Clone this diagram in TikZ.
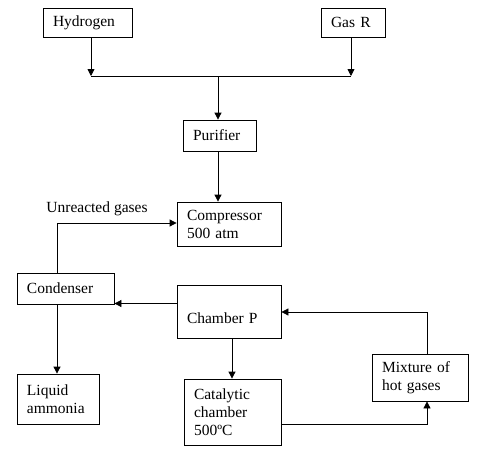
\documentclass[tikz,border=0pt]{standalone}
\usepackage{fontspec}
\setmainfont{Liberation Serif}
\usetikzlibrary{arrows.meta}
\begin{document}
\begin{tikzpicture}[x=1pt,y=-1pt,
  every node/.style={font=\fontsize{15.5}{18}\selectfont},
  box/.style={draw, line width=0.8pt, inner xsep=10pt, inner ysep=0pt, align=left},
  arr/.style={line width=0.8pt, -{Triangle[length=7pt,width=7pt]}},
  ln/.style={line width=0.8pt}]
\useasboundingbox (0,0) rectangle (488,453);
% boxes
\node[box, minimum width=89pt, minimum height=29pt, text width=69pt] (H) at (87.5,22.5) {Hydrogen};
\node[box, minimum width=64pt, minimum height=29pt, text width=44pt] (G) at (353,22.5) {Gas R};
\node[box, minimum width=73pt, minimum height=31pt, text width=53pt] (Pu) at (219.5,135.5) {Purifier};
\node[box, minimum width=104pt, minimum height=44pt, text width=84pt] (C) at (229,224) {Compressor\\500 atm};
\node[box, minimum width=97pt, minimum height=31pt, text width=77pt] (Cd) at (65.5,288.5) {Condenser};
\node[box, minimum width=104pt, minimum height=53pt, text width=84pt] (P) at (229,311.5) {\rule{0pt}{24pt}Chamber P};
\node[box, minimum width=97pt, minimum height=66pt, text width=77pt] (Cat) at (232.5,412) {Catalytic\\chamber\\500ºC};
\node[box, minimum width=96pt, minimum height=47pt, text width=76pt] (Mix) at (420,377.5) {Mixture of\\hot gases};
\node[box, minimum width=82pt, minimum height=50pt, text width=62pt] (LA) at (58,399) {Liquid\\ammonia};
\node[anchor=center] (U) at (97,209) {Unreacted gases};
% junction coordinates
\coordinate (j1) at (91,76);
\coordinate (j2) at (351,76);
\coordinate (j3) at (218,76);
\coordinate (k) at (57,223);
\coordinate (m) at (177,303.5);
\coordinate (n) at (427,424);
\coordinate (q) at (427,312);
\coordinate (r) at (232,338);
% connectors
\draw[arr] (H.south -| j1) -- (j1);
\draw[arr] (G.south -| j2) -- (j2);
\draw[ln] (j1) -- (j2);
\draw[arr] (j3) -- (j3 |- Pu.north);
\draw[arr] (Pu.south -| j3) -- (j3 |- C.north);
\draw[arr] (Cd.north -| k) -- (k) -- (C.west |- k);
\draw[arr] (m) -- (Cd.east |- m);
\draw[arr] (Cd.south -| k) -- (k |- LA.north);
\draw[arr] (r) -- (r |- Cat.north);
\draw[arr] (Cat.east |- n) -- (n) -- (n |- Mix.south);
\draw[arr] (Mix.north -| q) -- (q) -- (P.east |- q);
\end{tikzpicture}
\end{document}
